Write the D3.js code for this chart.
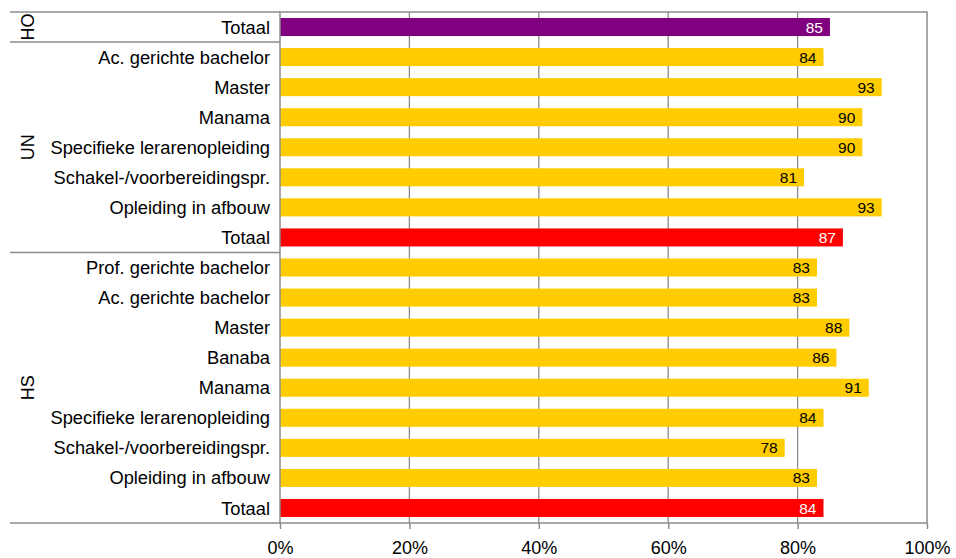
<!DOCTYPE html>
<html>
<head>
<meta charset="utf-8">
<script src="https://cdn.jsdelivr.net/npm/d3@7/dist/d3.min.js"></script>
<style>
  html, body { margin: 0; padding: 0; background: #fff; }
  svg { display: block; font-family: "Liberation Sans", Arial, Helvetica, sans-serif; }
</style>
</head>
<body>
<svg id="chart" width="956" height="558"></svg>
<script>
// Education levels, grouped by sector (HO = total, UN = universities, HS = hogescholen)
const groups = ["HO", "UN", "HS"];
const categories = [
  "Totaal",
  "Ac. gerichte bachelor", "Master", "Manama", "Specifieke lerarenopleiding",
  "Schakel-/voorbereidingspr.", "Opleiding in afbouw", "Totaal",
  "Prof. gerichte bachelor", "Ac. gerichte bachelor", "Master", "Banaba", "Manama",
  "Specifieke lerarenopleiding", "Schakel-/voorbereidingspr.", "Opleiding in afbouw", "Totaal"
];
const categoryGroup = [
  "HO",
  "UN", "UN", "UN", "UN", "UN", "UN", "UN",
  "HS", "HS", "HS", "HS", "HS", "HS", "HS", "HS", "HS"
];
const values = [85, 84, 93, 90, 90, 81, 93, 87, 83, 83, 88, 86, 91, 84, 78, 83, 84];
const xTicks = [0, 20, 40, 60, 80, 100];

const rows = categories.map((c, i) => ({
  id: i, label: c, group: categoryGroup[i], value: values[i]
}));

const svg = d3.select("#chart");
const plotLeft = 280, plotRight = 927, plotTop = 12, plotBottom = 523, labelLeft = 10;
const gridColor = "#8c8c8c";

const x = d3.scaleLinear().domain([0, 100]).range([plotLeft, plotRight]);
const y = d3.scaleBand()
  .domain(rows.map(d => d.id))
  .range([plotTop, plotBottom])
  .paddingInner(0.4)
  .paddingOuter(0.2);
const step = y.step();

function barColor(d) {
  if (d.label === "Totaal") return d.group === "HO" ? "#800080" : "#ff0000";
  return "#ffcc00";
}

// vertical gridlines
svg.append("g")
  .selectAll("line")
  .data(xTicks.filter(t => t > 0 && t < 100))
  .join("line")
  .attr("x1", d => x(d)).attr("x2", d => x(d))
  .attr("y1", plotTop).attr("y2", plotBottom)
  .attr("stroke", gridColor).attr("stroke-width", 1.3);

// bars
svg.append("g")
  .selectAll("rect")
  .data(rows)
  .join("rect")
  .attr("x", x(0))
  .attr("y", d => y(d.id))
  .attr("width", d => x(d.value) - x(0))
  .attr("height", y.bandwidth())
  .attr("fill", barColor);

// value labels at the bar ends
svg.append("g")
  .selectAll("text")
  .data(rows)
  .join("text")
  .attr("x", d => x(d.value) - 7)
  .attr("y", d => y(d.id) + y.bandwidth() / 2)
  .attr("dy", "0.36em")
  .attr("text-anchor", "end")
  .attr("font-size", 15.5)
  .attr("fill", d => d.label === "Totaal" ? "#fff" : "#000")
  .text(d => d.value);

// plot frame
svg.append("rect")
  .attr("x", plotLeft).attr("y", plotTop)
  .attr("width", plotRight - plotLeft).attr("height", plotBottom - plotTop)
  .attr("fill", "none")
  .attr("stroke", gridColor).attr("stroke-width", 1.5);

// group separators extending under the category labels
const groupStarts = [];
rows.forEach((d, i) => {
  if (i === 0 || rows[i - 1].group !== d.group) groupStarts.push(i);
});
const sepY = groupStarts.map(i => plotTop + i * step).concat([plotBottom]);
svg.append("g")
  .selectAll("line")
  .data(sepY)
  .join("line")
  .attr("x1", labelLeft).attr("x2", plotLeft)
  .attr("y1", d => d).attr("y2", d => d)
  .attr("stroke", gridColor).attr("stroke-width", 1.5);

// category labels
svg.append("g")
  .selectAll("text")
  .data(rows)
  .join("text")
  .attr("x", plotLeft - 10)
  .attr("y", d => y(d.id) + y.bandwidth() / 2)
  .attr("dy", "0.36em")
  .attr("text-anchor", "end")
  .attr("font-size", 18.3)
  .attr("fill", "#000")
  .text(d => d.label);

// rotated group labels
svg.append("g")
  .selectAll("text")
  .data(groups)
  .join("text")
  .attr("transform", g => {
    const idx = rows.filter(r => r.group === g).map(r => r.id);
    const y0 = plotTop + d3.min(idx) * step;
    const y1 = plotTop + (d3.max(idx) + 1) * step;
    return `translate(28,${(y0 + y1) / 2}) rotate(-90)`;
  })
  .attr("dy", "0.36em")
  .attr("text-anchor", "middle")
  .attr("font-size", 18)
  .attr("fill", "#000")
  .text(g => g);

// x axis
const xAxis = d3.axisBottom(x)
  .tickValues(xTicks)
  .tickFormat(d => d + "%")
  .tickSize(6)
  .tickPadding(12);
const ax = svg.append("g")
  .attr("transform", `translate(0,${plotBottom})`)
  .call(xAxis);
ax.select(".domain").remove();
ax.selectAll(".tick line").attr("stroke", gridColor).attr("stroke-width", 1.5);
ax.selectAll(".tick text")
  .attr("font-family", "Liberation Sans, Arial, sans-serif")
  .attr("font-size", 18)
  .attr("fill", "#000");
</script>
</body>
</html>
